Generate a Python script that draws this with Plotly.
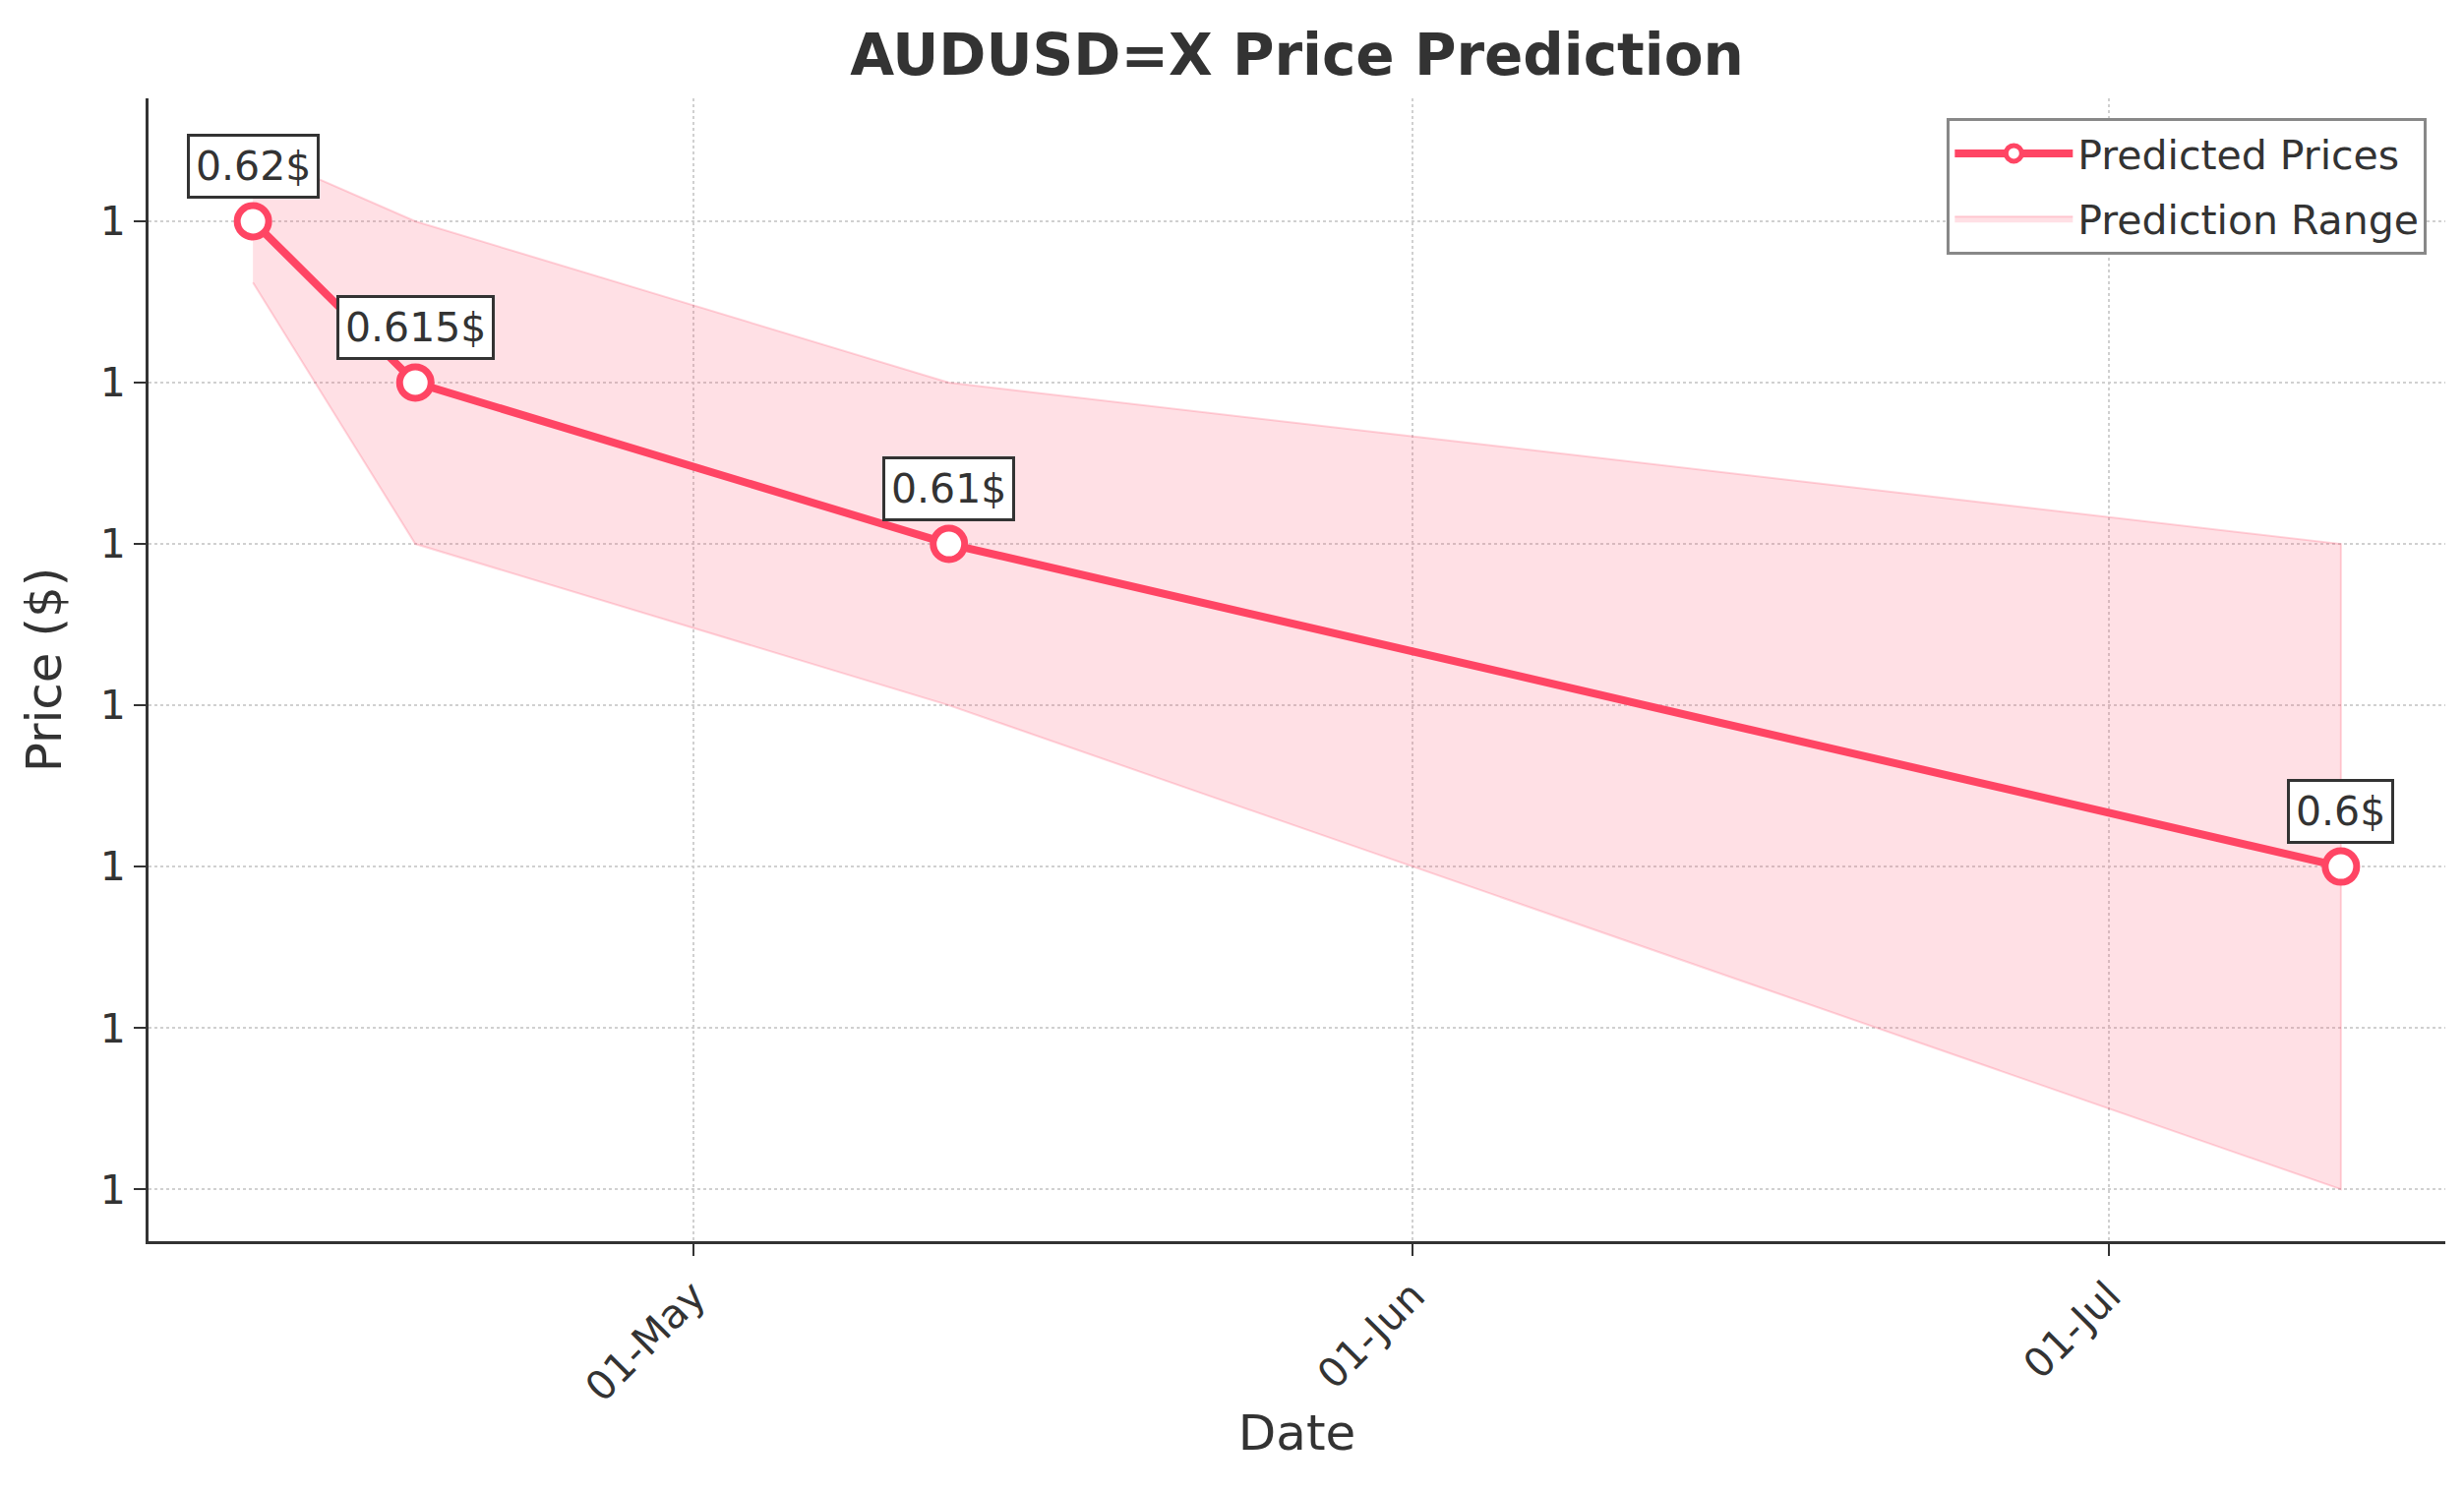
import plotly.graph_objects as go

# --- data
dates = ['2025-04-12', '2025-04-19', '2025-05-12', '2025-07-11']
predicted = [0.62, 0.615, 0.61, 0.6]
upper = [0.6222, 0.6200, 0.615, 0.61]
lower = [0.6181, 0.61, 0.605, 0.59]
y_ticks = [0.59, 0.595, 0.60, 0.605, 0.61, 0.615, 0.62]

LINE = '#FF4564'
FILL = 'rgba(255,69,100,0.17)'
TXT = '#333333'
FONT = 'DejaVu Sans'

# page body has an 8px margin, so the figure is 8px smaller than the window
W, H = 2497, 1509

fig = go.Figure()

# prediction range as a closed polygon (outline like fill_between)
fig.add_trace(go.Scatter(
    x=dates + dates[::-1], y=upper + lower[::-1],
    fill='toself', fillcolor=FILL,
    line=dict(color='rgba(255,69,100,0.22)', width=2),
    mode='lines', name='Prediction Range', legendrank=2, legendgroup='range',
    hoverinfo='skip'))

fig.add_trace(go.Scatter(
    x=dates, y=predicted, mode='lines+markers', name='Predicted Prices',
    legendrank=1, legendgroup='pred',
    line=dict(color=LINE, width=8),
    marker=dict(size=32, color='white', line=dict(color=LINE, width=7)),
    hovertemplate='%{y}$'))

for d, v in zip(dates, predicted):
    fig.add_annotation(x=d, y=v, text=f'{round(v, 3)}$', showarrow=False,
                       yshift=56, font=dict(family=FONT, size=41, color=TXT),
                       bgcolor='white', bordercolor=TXT, borderwidth=3, borderpad=6)

fig.update_layout(
    width=W, height=H,
    margin=dict(l=143, r=19, t=92, b=255),
    paper_bgcolor='white', plot_bgcolor='white',
    font=dict(family=FONT, color=TXT, size=41),
    title=dict(text='<b>AUDUSD=X Price Prediction</b>', x=0.5, xref='paper',
               y=1 - 48 / H, yref='container', yanchor='middle',
               font=dict(family=FONT, size=58, color=TXT)),
    legend=dict(x=0.992, y=0.983, xanchor='right', yanchor='top',
                bgcolor='white', bordercolor='#888888', borderwidth=3,
                font=dict(family=FONT, size=41, color=TXT),
                itemwidth=120, traceorder='grouped', tracegroupgap=10),
    showlegend=True,
)

fig.update_xaxes(
    type='date', range=['2025-04-07 12:00', '2025-07-15 12:00'],
    dtick='M1', tick0='2025-05-01', tickformat='%d-%b', tickangle=-45,
    showline=True, linecolor=TXT, linewidth=3, mirror=False,
    ticks='outside', ticklen=12, tickwidth=2, tickcolor=TXT,
    showgrid=True, gridcolor='#d0d0d0', gridwidth=2, griddash='dot',
    zeroline=False, tickfont=dict(size=41, color=TXT),
    title=dict(text='Date', font=dict(size=50, color=TXT), standoff=6),
)
fig.update_yaxes(
    range=[0.58839, 0.62381], tickvals=y_ticks, tickformat='.0f',
    showline=True, linecolor=TXT, linewidth=3, mirror=False,
    ticks='outside', ticklen=12, tickwidth=2, tickcolor=TXT,
    showgrid=True, gridcolor='#d0d0d0', gridwidth=2, griddash='dot',
    zeroline=False, tickfont=dict(size=41, color=TXT),
    title=dict(text='Price ($)', font=dict(size=50, color=TXT), standoff=24),
)

fig.write_html('out.html')
